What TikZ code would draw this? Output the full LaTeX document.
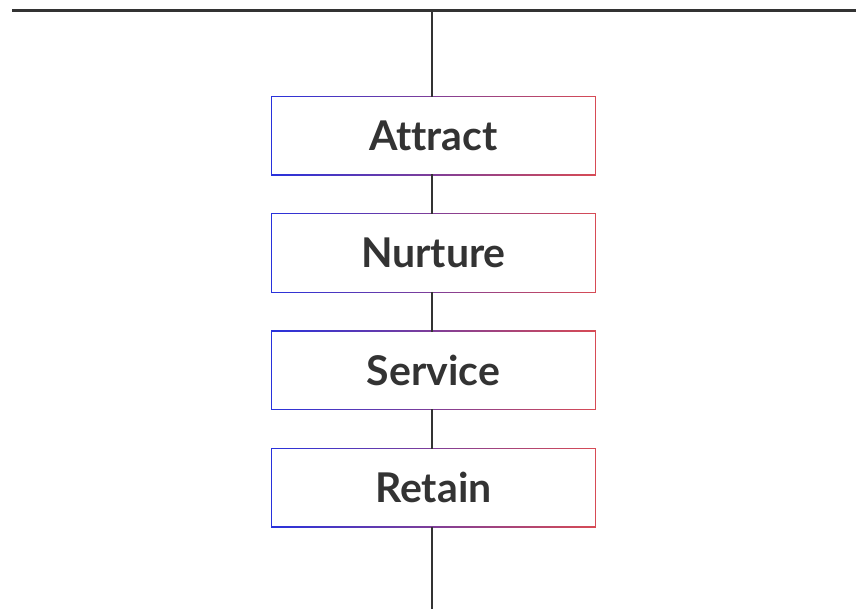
\documentclass[tikz,border=0pt]{standalone}
\usepackage{fontspec}
\setmainfont{Lato}[UprightFont=* Bold,Ligatures={NoCommon,NoRare}]
\definecolor{ink}{HTML}{333333}
\definecolor{gblue}{RGB}{40,50,220}
\definecolor{gred}{RGB}{215,75,85}
\begin{document}
\begin{tikzpicture}[x=1pt,y=-1pt,
  rail/.style={draw=ink,line width=2.6pt},
  stage/.style={fill=white,minimum width=323.6pt,minimum height=77.2pt,inner sep=0pt,
    text=ink,font=\fontsize{41}{48}\selectfont}]
\useasboundingbox[fill=white] (0,0) rectangle (856,609);
\coordinate (tl) at (12,10.5);
\coordinate (tr) at (856,10.5);
\coordinate (top) at (432,10.5);
\coordinate (bot) at (432,609);
\foreach \n/\t/\y in {a/Attract/135.7, b/Nurture/253, c/Service/370.3, d/Retain/487.7}{
  \shade[left color=gblue,right color=gred] (271,\y-39.5) rectangle (595.8,\y+39.5);
  \node[stage] (\n) at (433.4,\y) {\t};
}
\draw[rail] (tl) -- (tr);
\draw[rail] (top) -- (a.north -| top);
\draw[rail] (a.south -| top) -- (b.north -| top);
\draw[rail] (b.south -| top) -- (c.north -| top);
\draw[rail] (c.south -| top) -- (d.north -| top);
\draw[rail] (d.south -| top) -- (bot);
\end{tikzpicture}
\end{document}
